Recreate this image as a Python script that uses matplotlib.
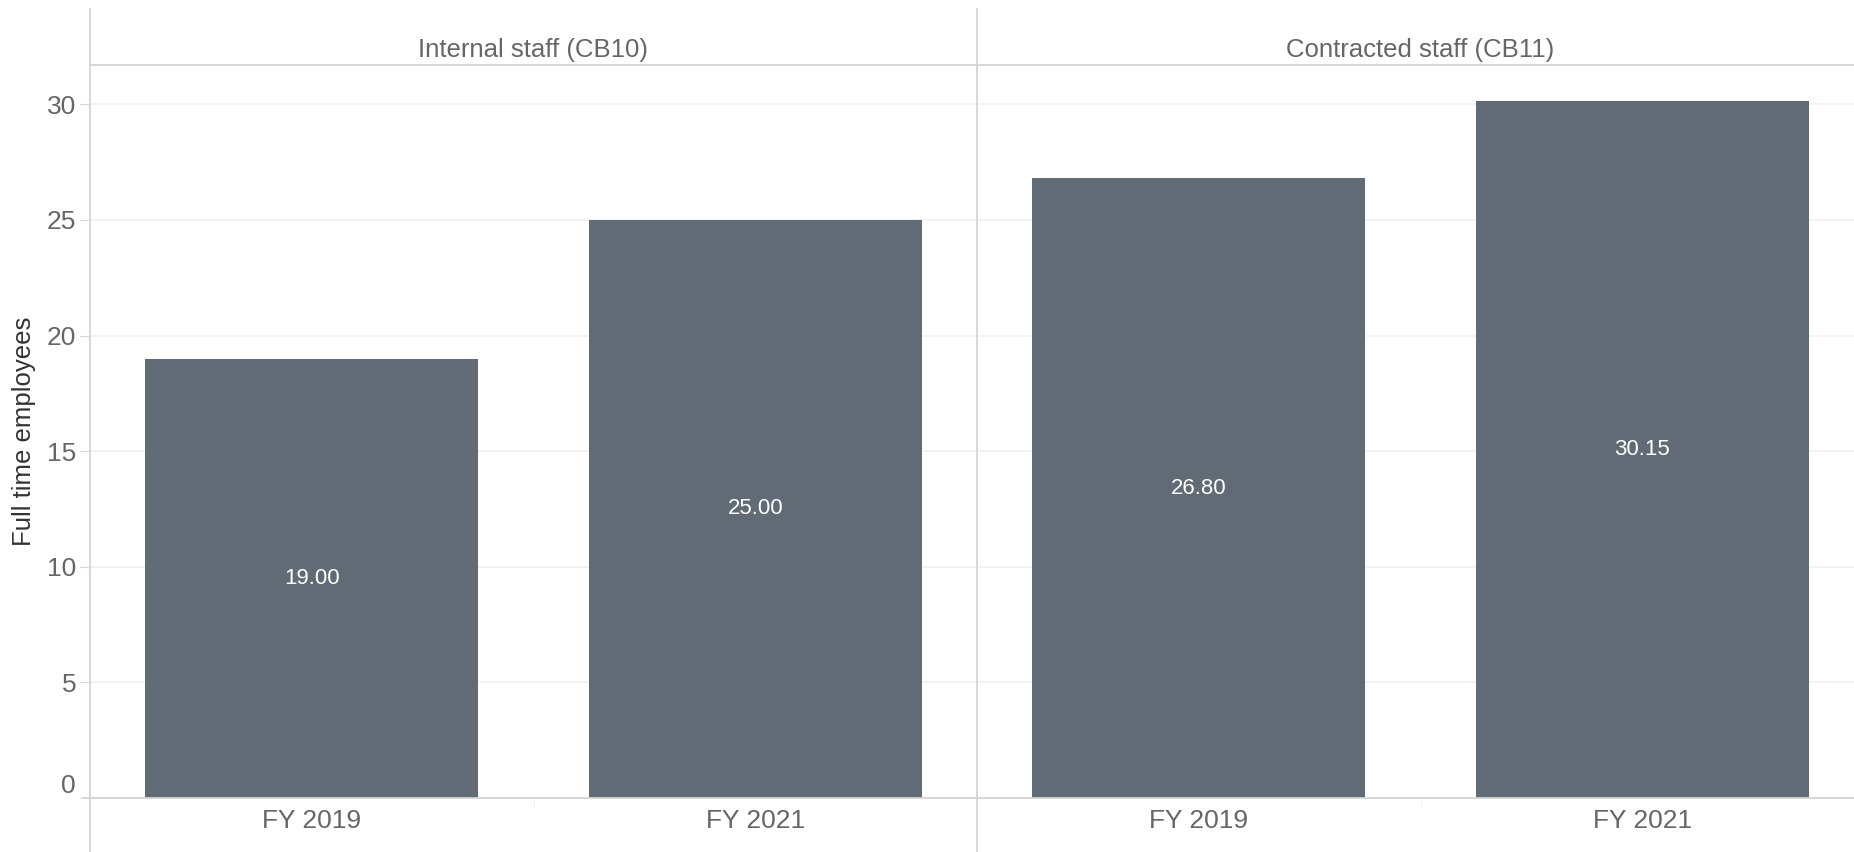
import numpy as np
import matplotlib.pyplot as plt
from matplotlib.lines import Line2D

plt.rcParams['font.family'] = ['Liberation Sans', 'DejaVu Sans']

panels = ['Internal staff (CB10)', 'Contracted staff (CB11)']
years = ['FY 2019', 'FY 2021']
internal_fte = [19.00, 25.00]
contracted_fte = [26.80, 30.15]
yticks = [0, 5, 10, 15, 20, 25, 30]

bar_color = '#616b76'
text_gray = '#666666'
line_gray = '#d4d4d4'

fig = plt.figure(figsize=(18.54, 8.52), dpi=100)
W, H = 1854, 852
x0, xmid = 90, 977
pw = xmid - x0          # both facets share the same width; the second runs off the edge
ybot, ytop, yhead = 798, 65, 9

axes = [fig.add_axes([x0 / W, 1 - ybot / H, pw / W, (ybot - ytop) / H]),
        fig.add_axes([xmid / W, 1 - ybot / H, pw / W, (ybot - ytop) / H])]

for i, (ax, title, vals) in enumerate(zip(axes, panels, [internal_fte, contracted_fte])):
    x = np.arange(len(years))
    ax.bar(x, vals, width=0.75, color=bar_color, zorder=2)
    for xi, v in zip(x, vals):
        ax.text(xi, v / 2, f'{v:.2f}', color='white', ha='center', va='center',
                fontsize=16, zorder=3)
    ax.set_xlim(-0.5, len(years) - 0.5)
    ax.set_ylim(0, 31.7)
    ax.set_yticks(yticks)
    ax.grid(axis='y', color='#f0f0f0', linewidth=1.2, zorder=0)
    ax.set_xticks(x)
    ax.set_xticklabels(years, fontsize=19, color=text_gray)
    ax.set_xticks([0.5], minor=True)
    ax.tick_params(axis='x', which='major', length=0, pad=8)
    ax.tick_params(axis='x', which='minor', length=6, color='#eeeeee')
    for s in ax.spines.values():
        s.set_visible(False)
    if i == 0:
        ax.tick_params(axis='y', length=7, color=line_gray, labelsize=19,
                       labelcolor=text_gray, pad=3)
        ax.get_yticklabels()[0].set_va('bottom')
        ax.set_ylabel('Full time employees', fontsize=18.5, color='#333333', labelpad=8)
    else:
        ax.tick_params(axis='y', length=0, labelleft=False)
    left = x0 if i == 0 else xmid
    fig.text((left + pw / 2) / W, 1 - 50 / H, title, ha='center', va='center',
             fontsize=18.5, color=text_gray)

# facet frame lines
for xv in (x0, xmid):
    fig.add_artist(Line2D([xv / W, xv / W], [0, 1 - yhead / H], color=line_gray, lw=1.3))
fig.add_artist(Line2D([x0 / W, 1], [1 - ytop / H, 1 - ytop / H], color=line_gray, lw=1.3))
fig.add_artist(Line2D([(x0 - 7) / W, 1], [1 - ybot / H, 1 - ybot / H], color=line_gray, lw=1.3))

fig.savefig('out.png', dpi=100)
